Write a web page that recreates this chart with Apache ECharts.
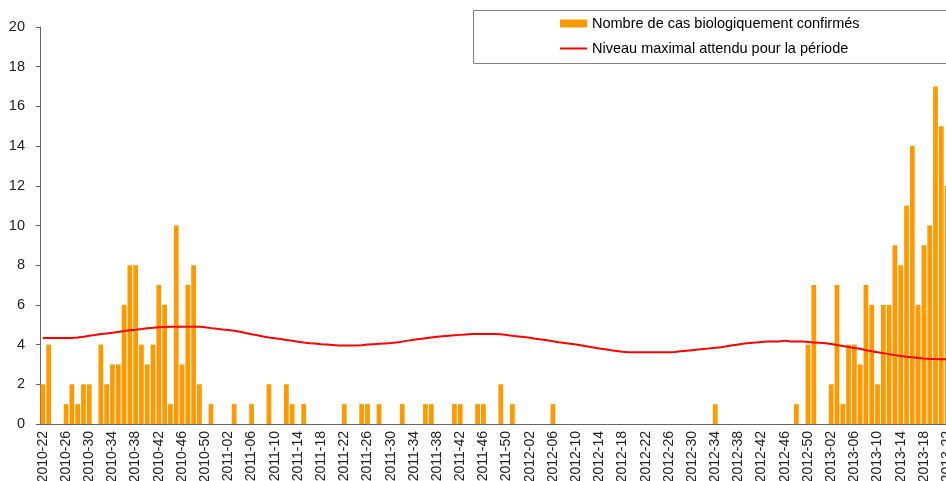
<!DOCTYPE html>
<html>
<head>
<meta charset="utf-8">
<title>Cas biologiquement confirmés</title>
<script src="https://cdn.jsdelivr.net/npm/echarts@6/dist/echarts.min.js"></script>
<style>
  html, body { margin: 0; padding: 0; background: #fff; }
  #chart { width: 946px; height: 481px; }
</style>
</head>
<body>
<div id="chart"></div>
<script>
// semaines ISO : 2010-22 -> 2013-22
const weekRanges = [
  { year: 2010, from: 22, to: 52 },
  { year: 2011, from: 1, to: 52 },
  { year: 2012, from: 1, to: 52 },
  { year: 2013, from: 1, to: 22 }
];
const weeks = [];
weekRanges.forEach(r => {
  for (let w = r.from; w <= r.to; w++) {
    weeks.push(r.year + '-' + (w < 10 ? '0' + w : w));
  }
});

// Nombre de cas biologiquement confirmés (par semaine)
const cases2010 = [
  2, 4, 0, 0, 1, 2, 1, 2, 2, 0, 4, 2, 3, 3, 6, 8, 8, 4, 3, 4, 7, 6, 1, 10, 3, 7, 8, 2, 0, 1, 0
];
const cases2011 = [
  0, 0, 1, 0, 0, 1, 0, 0, 2, 0, 0, 2, 1, 0, 1, 0, 0, 0, 0, 0, 0, 1, 0, 0, 1, 1,
  0, 1, 0, 0, 0, 1, 0, 0, 0, 1, 1, 0, 0, 0, 1, 1, 0, 0, 1, 1, 0, 0, 2, 0, 1, 0
];
const cases2012 = [
  0, 0, 0, 0, 0, 1, 0, 0, 0, 0, 0, 0, 0, 0, 0, 0, 0, 0, 0, 0, 0, 0, 0, 0, 0, 0,
  0, 0, 0, 0, 0, 0, 0, 1, 0, 0, 0, 0, 0, 0, 0, 0, 0, 0, 0, 0, 0, 1, 0, 4, 7, 0
];
const cases2013 = [
  0, 2, 7, 1, 4, 4, 3, 7, 6, 2, 6, 6, 9, 8, 11, 14, 6, 9, 10, 17, 15, 12
];

// Niveau maximal attendu pour la période
const threshold2010 = [
  4.33, 4.33, 4.33, 4.33, 4.33, 4.33, 4.36, 4.40, 4.45, 4.48, 4.53, 4.56, 4.60, 4.64, 4.68, 4.72,
  4.75, 4.79, 4.82, 4.85, 4.87, 4.89, 4.90, 4.90, 4.90, 4.90, 4.90, 4.90, 4.87, 4.83, 4.80
];
const threshold2011 = [
  4.76, 4.73, 4.70, 4.65, 4.58, 4.52, 4.47, 4.41, 4.36, 4.32, 4.28, 4.23, 4.19, 4.14, 4.10, 4.07,
  4.05, 4.02, 4.00, 3.98, 3.96, 3.95, 3.95, 3.95, 3.97, 4.00, 4.02, 4.04, 4.06, 4.08, 4.11, 4.15,
  4.20, 4.24, 4.28, 4.32, 4.36, 4.39, 4.42, 4.45, 4.47, 4.49, 4.51, 4.53, 4.54, 4.54, 4.54, 4.54,
  4.52, 4.48, 4.44, 4.41
];
const threshold2012 = [
  4.38, 4.34, 4.30, 4.26, 4.22, 4.17, 4.12, 4.08, 4.04, 4.00, 3.95, 3.90, 3.85, 3.80, 3.76, 3.72,
  3.68, 3.64, 3.61, 3.61, 3.61, 3.61, 3.61, 3.61, 3.61, 3.61, 3.63, 3.66, 3.69, 3.72, 3.75, 3.78,
  3.81, 3.84, 3.87, 3.92, 3.97, 4.01, 4.05, 4.08, 4.10, 4.13, 4.15, 4.15, 4.16, 4.20, 4.16, 4.15,
  4.15, 4.13, 4.11, 4.09
];
const threshold2013 = [
  4.07, 4.03, 3.98, 3.93, 3.88, 3.83, 3.79, 3.72, 3.66, 3.61, 3.57, 3.52, 3.47, 3.43, 3.39, 3.36,
  3.33, 3.30, 3.28, 3.27, 3.26, 3.26
];

const yTicks = { min: 0, max: 20, interval: 2 };

const cases = [].concat(cases2010, cases2011, cases2012, cases2013);
const threshold = [].concat(threshold2010, threshold2011, threshold2012, threshold2013);

const chart = echarts.init(document.getElementById('chart'), null, { renderer: 'canvas' });

const FONT = 'Liberation Sans, Arial, sans-serif';

chart.setOption({
  backgroundColor: '#fff',
  animation: false,
  textStyle: { fontFamily: FONT },
  grid: { left: 40, right: -4, top: 27, bottom: 57, outerBoundsMode: 'none', containLabel: false },
  graphic: [{
    type: 'rect',
    z: 0,
    shape: { x: 473.5, y: 10.5, width: 480, height: 53 },
    style: { fill: '#fff', stroke: '#808080', lineWidth: 1 }
  }],
  legend: {
    orient: 'vertical',
    left: 560,
    top: 16,
    padding: 0,
    itemWidth: 27,
    itemHeight: 8,
    itemGap: 10,
    z: 10,
    textStyle: { fontFamily: FONT, fontSize: 14.5, color: '#000' },
    data: [
      { name: 'Nombre de cas biologiquement confirmés', icon: 'rect' },
      { name: 'Niveau maximal attendu pour la période', icon: 'path://M0,0H27V2H0Z' }
    ]
  },
  xAxis: {
    type: 'category',
    data: weeks,
    axisLine: { lineStyle: { color: '#666', width: 1 } },
    axisTick: { interval: 0, length: 4, lineStyle: { color: '#222' } },
    axisLabel: {
      interval: 3,
      rotate: 90,
      margin: 7,
      fontSize: 14,
      color: '#222',
      fontFamily: FONT
    }
  },
  yAxis: {
    type: 'value',
    min: yTicks.min,
    max: yTicks.max,
    interval: yTicks.interval,
    splitLine: { show: false },
    axisLine: { show: true, lineStyle: { color: '#666', width: 1 } },
    axisTick: { show: true, length: 4, lineStyle: { color: '#666' } },
    axisLabel: { fontSize: 14.5, color: '#222', margin: 15, fontFamily: FONT }
  },
  series: [
    {
      name: 'Nombre de cas biologiquement confirmés',
      type: 'bar',
      data: cases,
      barCategoryGap: '18%',
      itemStyle: { color: '#ff9900' }
    },
    {
      name: 'Niveau maximal attendu pour la période',
      type: 'line',
      data: threshold,
      symbol: 'none',
      z: 5,
      lineStyle: { color: '#ff0000', width: 2 },
      itemStyle: { color: '#ff0000' }
    }
  ]
});

window.addEventListener('resize', function () {
  chart.resize();
});
</script>
</body>
</html>
